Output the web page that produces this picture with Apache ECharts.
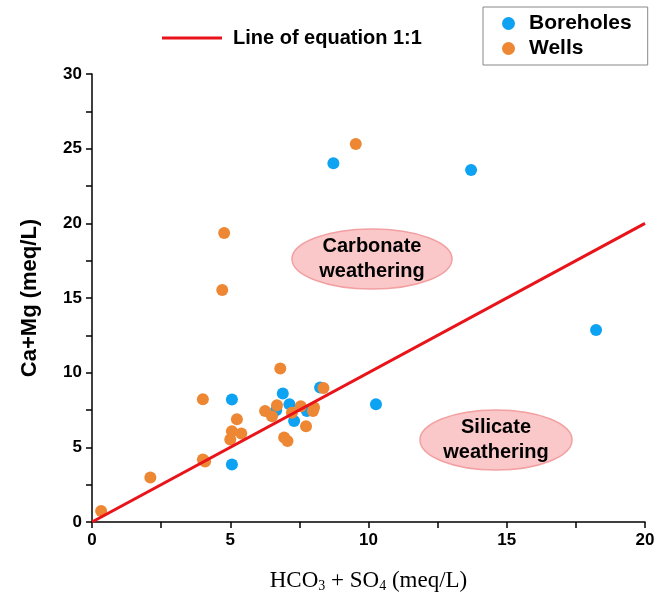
<!DOCTYPE html>
<html>
<head>
<meta charset="utf-8">
<script src="https://cdn.jsdelivr.net/npm/echarts@6/dist/echarts.min.js"></script>
<style>html,body{margin:0;padding:0;background:#fff}#c{width:657px;height:593px}</style>
</head>
<body>
<div id="c"></div>
<script>
const wellsX = [0.33, 2.11, 4.01, 4.09, 4.01, 5.0, 5.06, 5.40, 5.24, 6.26, 6.51, 6.69, 6.81, 6.95, 7.07, 7.23, 7.55, 7.74, 8.03, 7.99, 8.37, 4.71, 4.78, 9.54];
const wellsY = [0.74, 2.98, 4.18, 4.05, 8.22, 5.52, 6.08, 5.92, 6.88, 7.44, 7.08, 7.82, 10.28, 5.66, 5.43, 7.31, 7.75, 6.41, 7.67, 7.44, 8.98, 15.53, 19.35, 25.31];
const boreX = [5.06, 5.06, 6.90, 7.14, 6.66, 7.77, 7.31, 8.25, 10.27, 8.73, 13.71, 18.23];
const boreY = [3.85, 8.20, 8.61, 7.89, 7.49, 7.44, 6.77, 9.01, 7.89, 24.02, 23.57, 12.85];
const lineX = [0, 20];
const lineY = [0, 20];
const xTicks = [0, 5, 10, 15, 20];
const yTicks = [0, 5, 10, 15, 20, 25, 30];

const zip = (a, b) => a.map((v, i) => [v, b[i]]);
const chart = echarts.init(document.getElementById('c'));
const tickFont = {fontFamily: 'Liberation Sans, Arial', fontWeight: 'bold', fontSize: 17, color: '#000'};
chart.setOption({
  animation: false,
  grid: {left: 92, right: 12, top: 74, bottom: 71, containLabel: false, outerBoundsMode: 'none'},
  xAxis: {
    type: 'value', min: xTicks[0], max: xTicks[xTicks.length - 1], interval: 5,
    axisLine: {show: true, lineStyle: {color: '#000', width: 1.5}},
    axisTick: {show: true, length: 6, lineStyle: {color: '#000', width: 1.5}},
    minorTick: {show: true, splitNumber: 2, length: 6, lineStyle: {color: '#000', width: 1.5}},
    splitLine: {show: false},
    axisLabel: Object.assign({margin: 10}, tickFont),
    name: '{a|HCO}{s|3}{a| + SO}{s|4}{a| (meq/L)}',
    nameLocation: 'middle', nameGap: 46,
    nameTextStyle: {rich: {
      a: {fontFamily: 'Liberation Serif, Times New Roman', fontSize: 23, color: '#000'},
      s: {fontFamily: 'Liberation Serif, Times New Roman', fontSize: 14, color: '#000', verticalAlign: 'bottom', padding: [11, 0, 0, 0]}
    }}
  },
  yAxis: {
    type: 'value', min: yTicks[0], max: yTicks[yTicks.length - 1], interval: 5,
    axisLine: {show: true, lineStyle: {color: '#000', width: 1.5}},
    axisTick: {show: true, length: 6, lineStyle: {color: '#000', width: 1.5}},
    minorTick: {show: true, splitNumber: 2, length: 6, lineStyle: {color: '#000', width: 1.5}},
    splitLine: {show: false},
    axisLabel: Object.assign({margin: 10}, tickFont),
    name: 'Ca+Mg (meq/L)', nameLocation: 'middle', nameGap: 51,
    nameTextStyle: {fontFamily: 'Liberation Sans, Arial', fontWeight: 'bold', fontSize: 22, color: '#000'}
  },
  legend: [
    {
      data: [{name: 'Line of equation 1:1', icon: 'rect'}],
      left: 157, top: 23, itemWidth: 60, itemHeight: 3, itemGap: 10,
      textStyle: {fontFamily: 'Liberation Sans, Arial', fontWeight: 'bold', fontSize: 20, color: '#000', padding: [0, 0, 0, 6]}
    },
    {
      data: ['Boreholes', 'Wells'], orient: 'vertical',
      left: 483, top: 7, itemWidth: 13, itemHeight: 13, itemGap: 4,
      padding: [6, 16, 6, 19],
      borderColor: '#888', borderWidth: 1,
      textStyle: {fontFamily: 'Liberation Sans, Arial', fontWeight: 'bold', fontSize: 21, color: '#000', padding: [0, 0, 0, 9]}
    }
  ],
  graphic: [
    {type: 'ellipse', shape: {cx: 372, cy: 259, rx: 80, ry: 30}, style: {fill: '#fbc8c9', stroke: '#f2a0a2', lineWidth: 1.5}, z: 1},
    {type: 'text', x: 372, y: 259, style: {text: 'Carbonate\nweathering', fill: '#000', font: 'bold 20px "Liberation Sans", Arial', align: 'center', verticalAlign: 'middle', lineHeight: 25}, z: 2},
    {type: 'ellipse', shape: {cx: 496, cy: 440, rx: 76, ry: 30}, style: {fill: '#fbc8c9', stroke: '#f2a0a2', lineWidth: 1.5}, z: 1},
    {type: 'text', x: 496, y: 440, style: {text: 'Silicate\nweathering', fill: '#000', font: 'bold 20px "Liberation Sans", Arial', align: 'center', verticalAlign: 'middle', lineHeight: 25}, z: 2}
  ],
  series: [
    {name: 'Line of equation 1:1', type: 'line', data: zip(lineX, lineY), symbol: 'none', lineStyle: {color: '#e8141a', width: 3}, itemStyle: {color: '#e8141a'}, z: 4},
    {name: 'Boreholes', type: 'scatter', data: zip(boreX, boreY), symbolSize: 12, itemStyle: {color: '#0da2f2', opacity: 1}, z: 3},
    {name: 'Wells', type: 'scatter', data: zip(wellsX, wellsY), symbolSize: 12, itemStyle: {color: '#ee8733', opacity: 1}, z: 3}
  ]
});
</script>
</body>
</html>
